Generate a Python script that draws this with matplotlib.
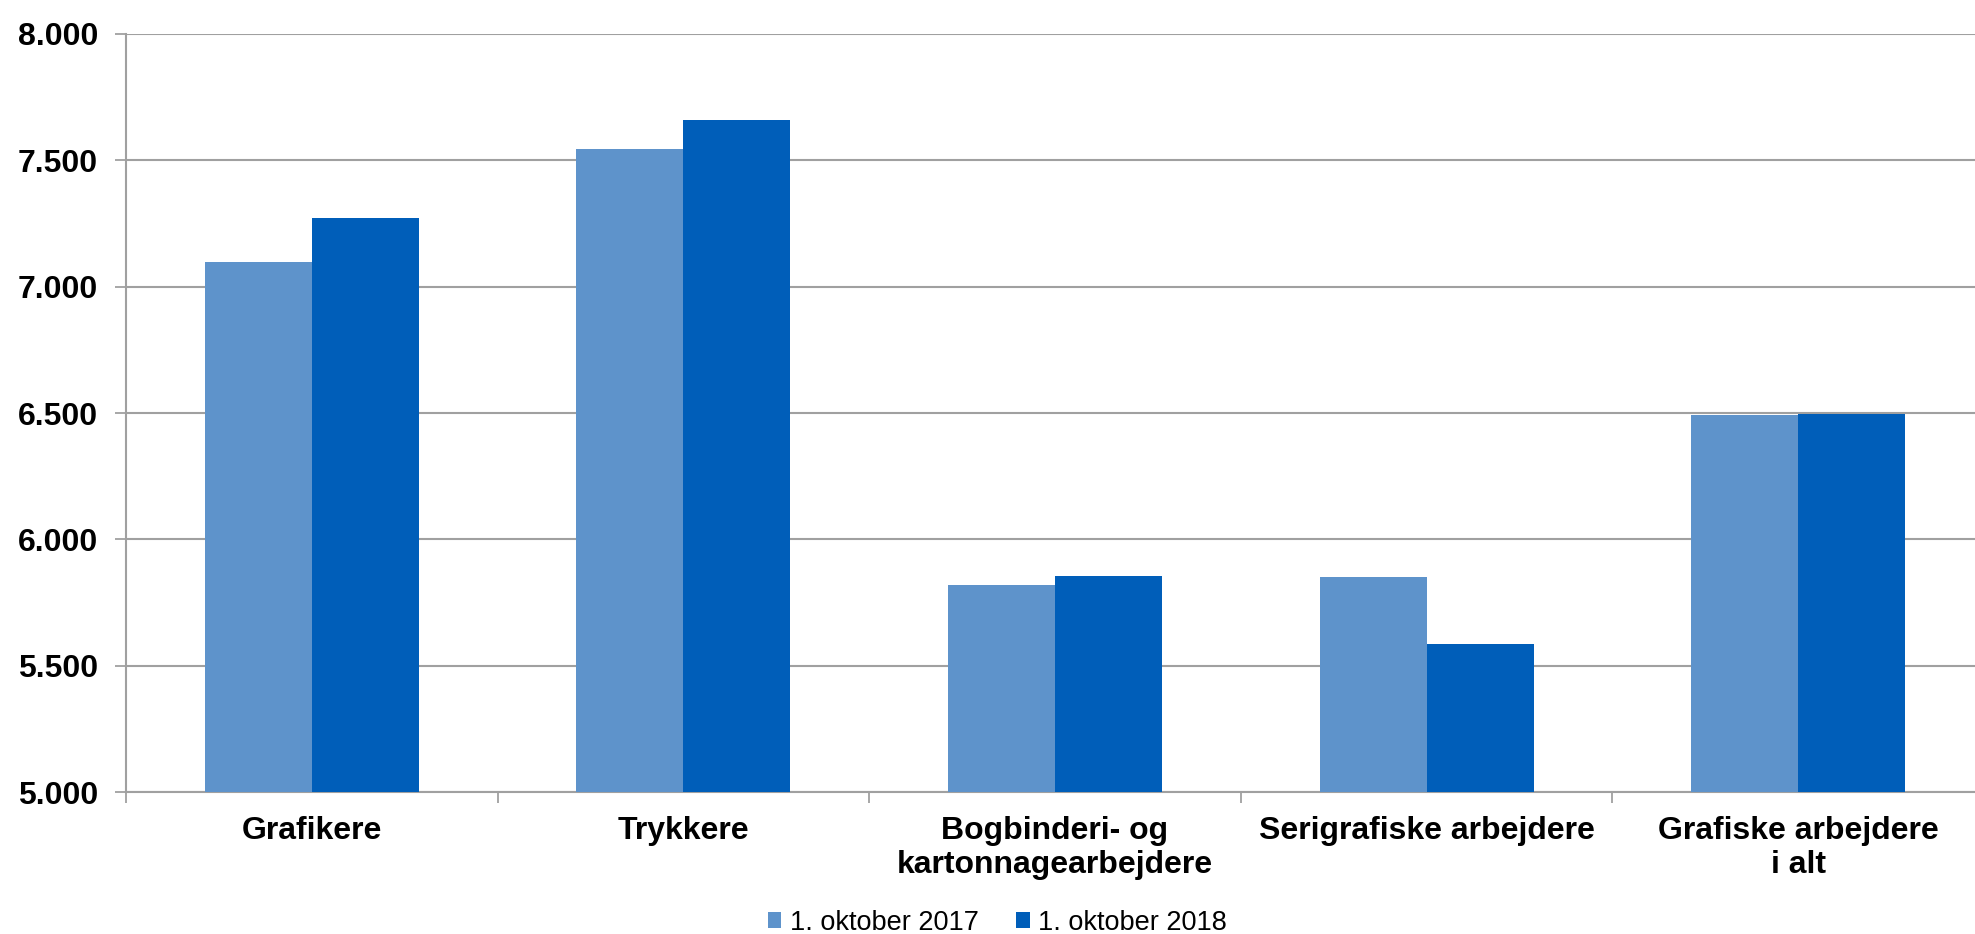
import numpy as np
import matplotlib
matplotlib.use("Agg")
import matplotlib.pyplot as plt
from matplotlib.ticker import FixedLocator, FuncFormatter

plt.rcParams['font.family'] = ['Liberation Sans', 'DejaVu Sans']

categories = ['Grafikere', 'Trykkere', 'Bogbinderi- og\nkartonnagearbejdere',
              'Serigrafiske arbejdere', 'Grafiske arbejdere\ni alt']
values_2017 = [7096, 7545, 5820, 5850, 6492]
values_2018 = [7272, 7661, 5854, 5586, 6495]
series_labels = ['1. oktober 2017', '1. oktober 2018']
y_ticks = [5000, 5500, 6000, 6500, 7000, 7500, 8000]

col_2017 = '#5E93CB'
col_2018 = '#005EB9'

fig = plt.figure(figsize=(19.75, 9.34), dpi=100)
ax = fig.add_axes([0.0638, 0.152, 0.9408, 0.8116])

x = np.arange(len(categories))
w = 0.288
ax.bar(x - w / 2, values_2017, w, color=col_2017, label=series_labels[0], zorder=3)
ax.bar(x + w / 2, values_2018, w, color=col_2018, label=series_labels[1], zorder=3)

ax.set_xlim(-0.5, len(categories) - 0.5)
ax.set_ylim(5000, 8000)

ax.set_yticks(y_ticks)
ax.yaxis.set_major_formatter(FuncFormatter(lambda v, p: f'{int(v):,}'.replace(',', '.')))
ax.grid(axis='y', color='#A0A0A0', linewidth=1.5, zorder=0)

ax.set_xticks(x)
ax.set_xticklabels(categories, fontweight='bold', fontsize=23, linespacing=1.2)
ax.xaxis.set_minor_locator(FixedLocator(np.arange(-0.5, len(categories), 1.0)))
ax.tick_params(axis='x', which='major', length=0, pad=17)
ax.tick_params(axis='x', which='minor', length=8, width=1.3, color='#A0A0A0')
ax.tick_params(axis='y', length=8, width=1.3, color='#A0A0A0', pad=12, labelsize=23)
for lbl in ax.get_yticklabels():
    lbl.set_fontweight('bold')

for side in ['top', 'right']:
    ax.spines[side].set_visible(False)
for side in ['left', 'bottom']:
    ax.spines[side].set_color('#A0A0A0')
    ax.spines[side].set_linewidth(1.5)

fig.legend(loc='center', bbox_to_anchor=(0.505, 0.012), ncol=2, frameon=False,
           fontsize=19.5, handlelength=0.5, handleheight=0.5, handletextpad=0.3,
           columnspacing=1.4)

fig.savefig('out.png', dpi=100)
